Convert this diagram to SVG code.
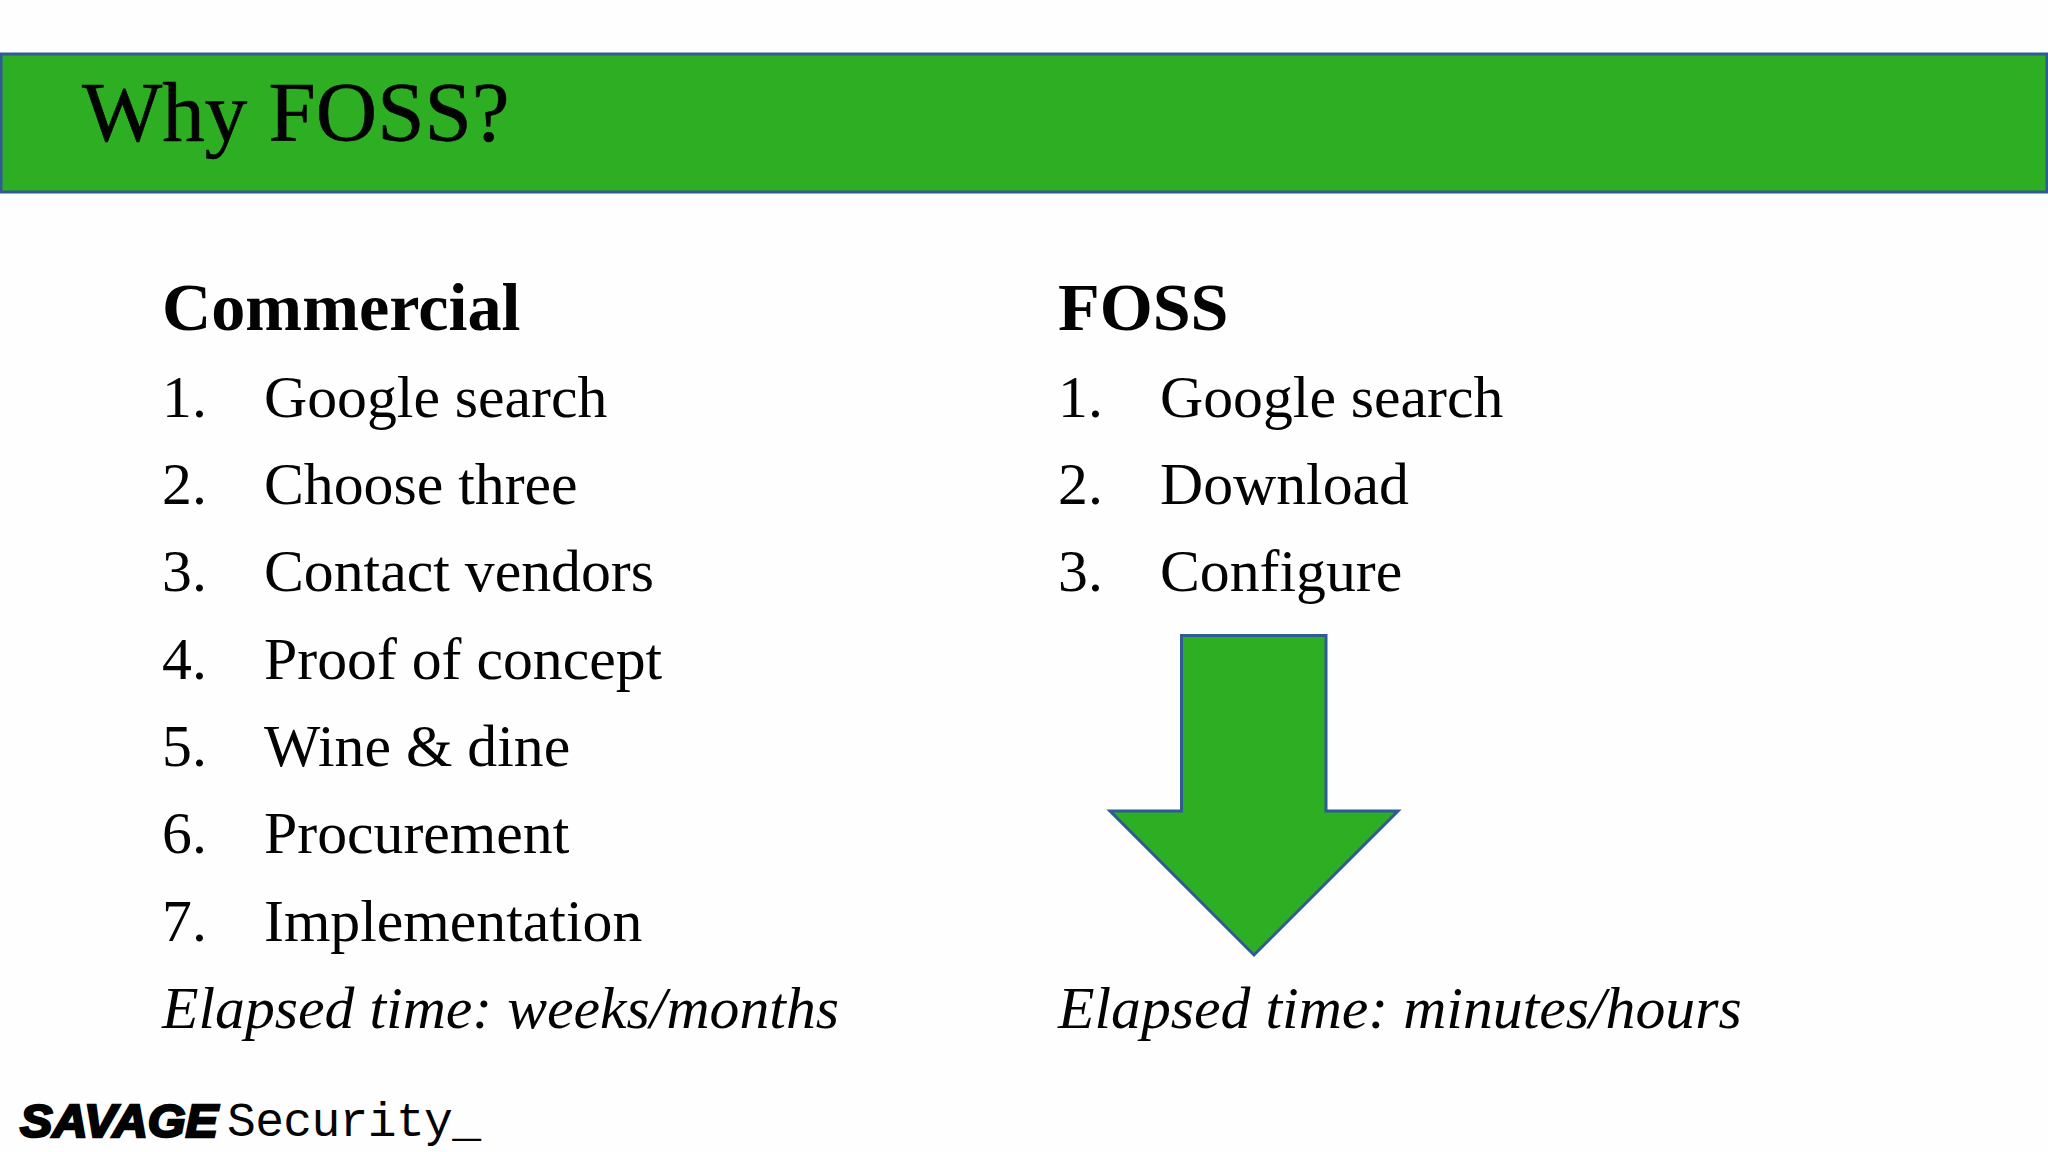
<svg xmlns="http://www.w3.org/2000/svg" width="2048" height="1152" viewBox="0 0 2048 1152">
<style>
text{font-family:"Liberation Serif","Times New Roman",serif;fill:#030303}
.b{font-size:68.2px;font-weight:bold}
.t{font-size:59.75px}
.i{font-size:59.75px;font-style:italic}
.g{fill:#2eae22;stroke:#2f5a96;stroke-width:3}
</style>
<rect width="2048" height="1152" fill="#fefefe"/>
<g id="title"><rect class="g" x="1" y="54" width="2046" height="138"/><text x="82" y="141" font-size="85" stroke="#030303" stroke-width="0.6">Why FOSS?</text></g>
<g id="commercial">
<text class="b" x="162" y="330">Commercial</text>
<text class="t" x="162" y="417">1.</text><text class="t" x="264" y="417">Google search</text>
<text class="t" x="162" y="504">2.</text><text class="t" x="264" y="504">Choose three</text>
<text class="t" x="162" y="591">3.</text><text class="t" x="264" y="591">Contact vendors</text>
<text class="t" x="162" y="679">4.</text><text class="t" x="264" y="679">Proof of concept</text>
<text class="t" x="162" y="766">5.</text><text class="t" x="264" y="766">Wine &amp; dine</text>
<text class="t" x="162" y="853">6.</text><text class="t" x="264" y="853">Procurement</text>
<text class="t" x="162" y="941">7.</text><text class="t" x="264" y="941">Implementation</text>
<text class="i" x="162" y="1028">Elapsed time: weeks/months</text>
</g>
<g id="foss">
<text class="b" x="1058" y="330">FOSS</text>
<text class="t" x="1058" y="417">1.</text><text class="t" x="1160" y="417">Google search</text>
<text class="t" x="1058" y="504">2.</text><text class="t" x="1160" y="504">Download</text>
<text class="t" x="1058" y="591">3.</text><text class="t" x="1160" y="591">Configure</text>
<text class="i" x="1058" y="1028">Elapsed time: minutes/hours</text>
</g>
<g id="arrow"><path class="g" d="M1181.5 635.5H1326V811H1398L1254 955L1110 811H1181.5Z"/></g>
<g id="logo">
<text x="20" y="1137" font-size="47" font-weight="bold" font-style="italic" stroke="#030303" stroke-width="2.5" style="font-family:'Liberation Sans',sans-serif" textLength="198" lengthAdjust="spacingAndGlyphs">SAVAGE</text>
<text x="227" y="1136" font-size="48" style="font-family:'Liberation Mono',monospace" textLength="254" lengthAdjust="spacing">Security_</text>
</g>
</svg>
